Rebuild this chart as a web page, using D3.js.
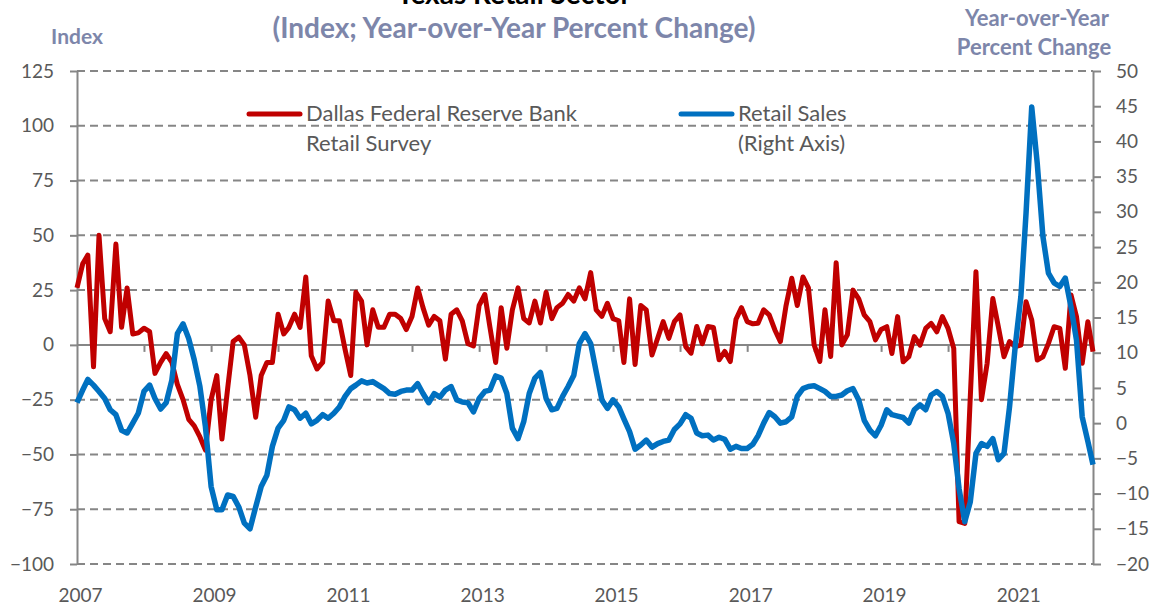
<!DOCTYPE html>
<html>
<head>
<meta charset="utf-8">
<script src="https://cdn.jsdelivr.net/npm/d3@7"></script>
<style>
  body { margin: 0; background: #fff; }
  svg { font-family: Lato, "Open Sans", sans-serif; }
</style>
</head>
<body>
<div id="chart"></div>
<script>
// monthly data, Jan 2007 .. Mar 2022
var startMonth = new Date(2007, 0, 1);

// Dallas Fed retail survey index (left axis)
var surveyIndex = [
  26, 37, 41, -10, 50, 12, 6, 46, 8, 26, 5, 5.5,
  7.6, 6, -13, -8, -4, -8, -18, -25, -34, -37, -42, -48,
  -25, -14, -43, -20, 1.5, 3.5, 0, -14, -33, -14, -8, -8,
  14, 5, 8, 14, 8, 31, -5, -11, -8, 20, 11, 11,
  -2, -14, 24, 20, 0, 16, 8, 8, 14, 14, 12, 7,
  13, 26, 17, 9, 13, 11, -6.5, 14, 16, 11, 0.5, -0.5,
  18, 23, 8, -8, 17, -1.5, 16, 26, 12, 10, 20, 10,
  24, 12, 17, 19, 23, 20, 26, 21, 33, 16, 13, 19,
  12, 11, -8, 21, -9, 18, 16, -4.6, 3, 10.6, 3, 10.6,
  13.7, -0.8, -3.8, 8.4, 0.5, 8.4, 8, -6.8, -3, -7.6, 11.7, 17,
  10.6, 9.6, 9.9, 16, 13.7, 6.8, 1.5, 18, 30.4, 18, 31, 26,
  0, -7.6, 16, -5.3, 37.5, 0, 4.6, 25, 21, 13.7, 10.6, 2.3,
  7, 8.3, -3.9, 12.9, -7.7, -5.4, 3.8, -0.1, 7.5, 9.8, 6, 12.9,
  7.5, -1.6, -80.7, -81.5, -24, 33.4, -25, -8.4, 21.2, 8.3, -5.4, 1.5,
  -0.8, -0.1, 19.7, 11.4, -6.9, -5.4, 0.7, 8.3, 7.5, -10.7, 22.8, 12.9,
  -8.4, 10.6, -3.1
];

// retail sales, year-over-year % change (right axis)
var retailSales = [
  2.9, 4.7, 6.2, 5.4, 4.5, 3.5, 1.9, 1.2, -1.0, -1.4, 0, 1.4,
  4.5, 5.4, 3.5, 2.0, 2.9, 6.1, 12.7, 14.1, 12.0, 9.0, 5.2, -0.5,
  -9.0, -12.3, -12.3, -10.2, -10.4, -11.9, -14.2, -15.0, -11.9, -9.0, -7.4, -3.3,
  -0.7, 0.4, 2.3, 1.9, 0.7, 1.4, -0.1, 0.4, 1.2, 0.7, 1.4, 2.3,
  3.8, 4.9, 5.4, 6.0, 5.7, 5.9, 5.4, 4.9, 4.2, 4.1, 4.5, 4.7,
  4.7, 5.6, 4.2, 2.9, 4.2, 3.7, 4.7, 5.2, 3.3, 3.0, 2.9, 1.6,
  3.5, 4.5, 4.7, 6.7, 6.4, 4.2, -0.7, -2.2, 0.2, 4.2, 6.4, 7.2,
  3.5, 1.9, 2.1, 3.8, 5.2, 6.8, 11.3, 12.7, 11.3, 7.3, 3.3, 2.1,
  3.3, 2.3, 0.6, -1.2, -3.7, -3.1, -2.4, -3.4, -2.9, -2.6, -2.4, -0.9,
  -0.1, 1.2, 0.7, -1.4, -1.8, -1.7, -2.4, -2.0, -2.3, -3.7, -3.3, -3.6,
  -3.6, -3.0, -1.8, 0, 1.5, 0.9, 0, 0.2, 0.9, 3.8, 4.9, 5.2,
  5.3, 4.9, 4.5, 3.8, 3.8, 4.0, 4.6, 4.9, 3.3, 0.4, -1.0, -1.8,
  -0.3, 1.9, 1.2, 1.0, 0.8, 0, 1.9, 2.6, 1.9, 4.0, 4.5, 3.8,
  1.4, -2.9, -9.3, -14, -11.2, -4.3, -2.9, -3.3, -2.2, -5.2, -4.3, 2.3,
  10.9, 18, 29.8, 44.9, 36.9, 26.5, 21.3, 19.9, 19.4, 20.6, 16.5, 11.8,
  0.9, -2.6, -5.9
];

var leftTicks = [-100, -75, -50, -25, 0, 25, 50, 75, 100, 125];
var rightTicks = [-20, -15, -10, -5, 0, 5, 10, 15, 20, 25, 30, 35, 40, 45, 50];
var yearLabels = [2007, 2009, 2011, 2013, 2015, 2017, 2019, 2021];

var width = 1160, height = 608;
var plot = {x0: 77, x1: 1093, y0: 71, y1: 564};

var months = surveyIndex.map(function(d, i) { return d3.timeMonth.offset(startMonth, i); });

var svg = d3.select("#chart").append("svg")
    .attr("width", width)
    .attr("height", height);

var x = d3.scaleTime()
    .domain([months[0], months[months.length - 1]])
    .range([plot.x0, plot.x1]);

var yL = d3.scaleLinear().domain([-100, 125]).range([plot.y1, plot.y0]);
var yR = d3.scaleLinear().domain([-20, 50]).range([plot.y1, plot.y0]);

var gridColor = "#868686", textColor = "#595959", titleColor = "#7d86aa";

// dashed gridlines
svg.append("g")
  .selectAll("line")
  .data(leftTicks.filter(function(d) { return d != 0; }))
  .enter().append("line")
    .attr("x1", plot.x0).attr("x2", plot.x1)
    .attr("y1", function(d) { return yL(d); })
    .attr("y2", function(d) { return yL(d); })
    .attr("stroke", gridColor)
    .attr("stroke-width", 2)
    .attr("stroke-dasharray", "8,5");

// left axis
var gl = svg.append("g")
    .attr("transform", "translate(" + plot.x0 + ",0)")
    .call(d3.axisLeft(yL).tickValues(leftTicks).tickSize(7).tickSizeOuter(0).tickPadding(16));

// right axis
var gr = svg.append("g")
    .attr("transform", "translate(" + plot.x1 + ",0)")
    .call(d3.axisRight(yR).tickValues(rightTicks).tickSize(8).tickSizeOuter(0).tickPadding(15));

// zero line with yearly ticks
var years = d3.timeYear.range(new Date(2008, 0, 1), new Date(2023, 0, 1));
var gx = svg.append("g")
    .attr("transform", "translate(0," + yL(0) + ")")
    .call(d3.axisBottom(x).tickValues(years).tickSize(7).tickSizeOuter(0).tickFormat(""));
gx.select(".domain").attr("d", "M" + plot.x0 + ",0H" + plot.x1);

// year labels
var gy = svg.append("g")
    .attr("transform", "translate(3," + plot.y1 + ")")
    .call(d3.axisBottom(x)
      .tickValues(yearLabels.map(function(d) { return new Date(d, 0, 1); }))
      .tickSize(0).tickPadding(25)
      .tickFormat(d3.timeFormat("%Y")));
gy.select(".domain").remove();

[gl, gr, gx, gy].forEach(function(g) {
  g.selectAll(".domain").attr("stroke", gridColor).attr("stroke-width", 2);
  g.selectAll(".tick line").attr("stroke", gridColor).attr("stroke-width", 2);
  g.selectAll("text").attr("fill", textColor).style("font-size", "19px").style("font-family", "Lato, sans-serif");
});

// lines
var lineL = d3.line()
    .x(function(d, i) { return x(months[i]); })
    .y(function(d) { return yL(d); });
var lineR = d3.line()
    .x(function(d, i) { return x(months[i]); })
    .y(function(d) { return yR(d); });

svg.append("path")
    .datum(surveyIndex)
    .attr("d", lineL)
    .attr("fill", "none")
    .attr("stroke", "#c00000")
    .attr("stroke-width", 5)
    .attr("stroke-linejoin", "round");

svg.append("path")
    .datum(retailSales)
    .attr("d", lineR)
    .attr("fill", "none")
    .attr("stroke", "#0070c0")
    .attr("stroke-width", 5.5)
    .attr("stroke-linejoin", "round");

// titles
svg.append("text").attr("x", 514).attr("y", 4).attr("text-anchor", "middle")
    .text("Texas Retail Sector").style("font-size", "28px").style("font-weight", "bold").attr("fill", "#000");
svg.append("text").attr("x", 514).attr("y", 38).attr("text-anchor", "middle")
    .text("(Index; Year-over-Year Percent Change)").style("font-size", "28px").style("font-weight", "bold").attr("fill", titleColor);
svg.append("text").attr("x", 77).attr("y", 44).attr("text-anchor", "middle")
    .text("Index").style("font-size", "21px").style("font-weight", "bold").attr("fill", titleColor);
svg.append("text").attr("x", 1037).attr("y", 26).attr("text-anchor", "middle")
    .text("Year-over-Year").style("font-size", "22px").style("font-weight", "bold").attr("fill", titleColor);
svg.append("text").attr("x", 1034).attr("y", 55).attr("text-anchor", "middle")
    .text("Percent Change").style("font-size", "22px").style("font-weight", "bold").attr("fill", titleColor);

// legend
svg.append("line").attr("x1", 249).attr("x2", 300).attr("y1", 114).attr("y2", 114)
    .attr("stroke", "#c00000").attr("stroke-width", 5).attr("stroke-linecap", "round");
svg.append("text").attr("x", 306).attr("y", 121).text("Dallas Federal Reserve Bank")
    .style("font-size", "22px").attr("fill", textColor);
svg.append("text").attr("x", 306).attr("y", 151).text("Retail Survey")
    .style("font-size", "22px").attr("fill", textColor);

svg.append("line").attr("x1", 681).attr("x2", 732).attr("y1", 114).attr("y2", 114)
    .attr("stroke", "#0070c0").attr("stroke-width", 5).attr("stroke-linecap", "round");
svg.append("text").attr("x", 738).attr("y", 121).text("Retail Sales")
    .style("font-size", "22px").attr("fill", textColor);
svg.append("text").attr("x", 738).attr("y", 151).text("(Right Axis)")
    .style("font-size", "22px").attr("fill", textColor);
</script>
</body>
</html>
